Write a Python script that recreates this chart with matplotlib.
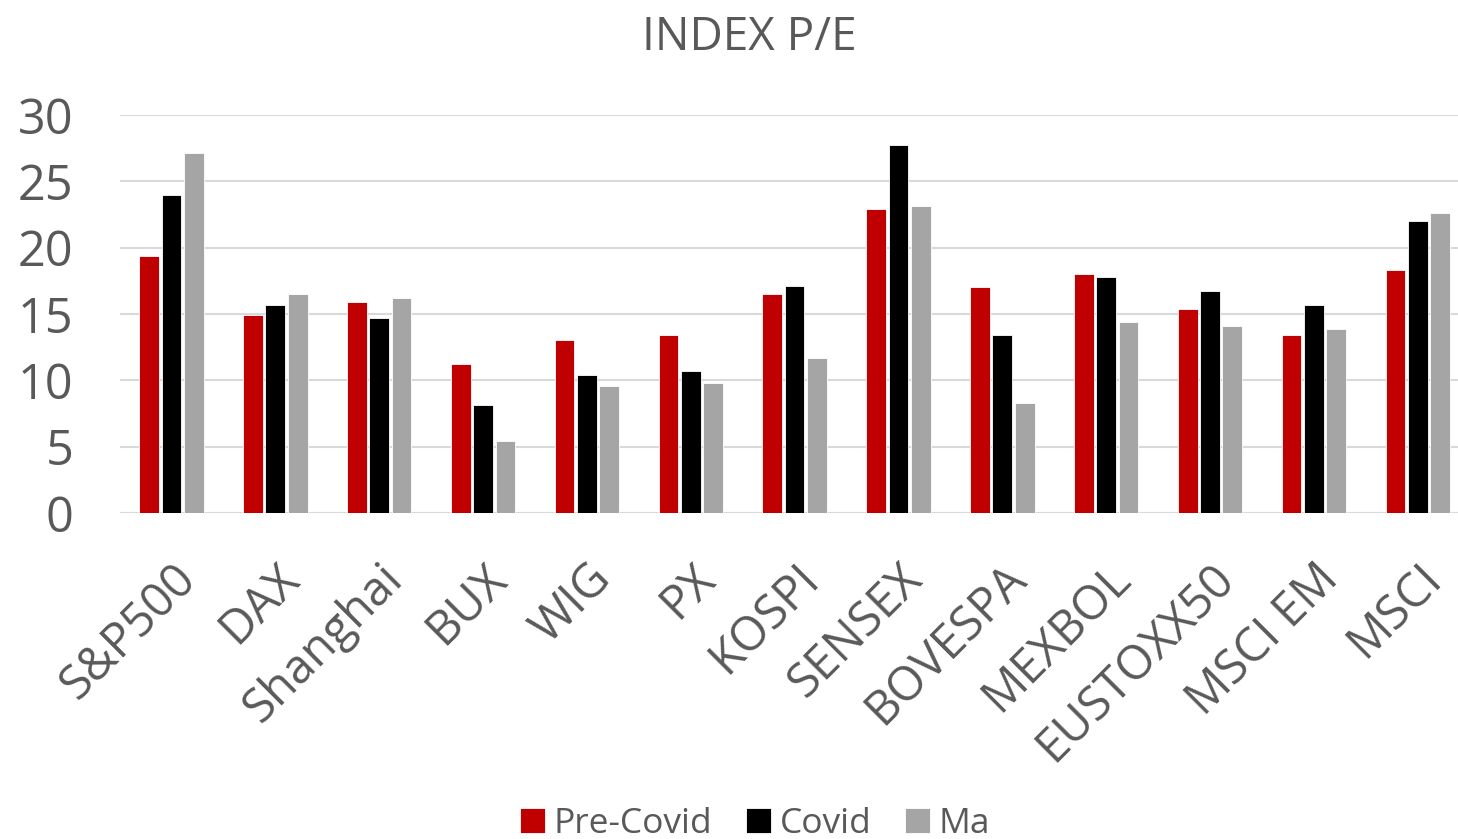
import numpy as np
import matplotlib.pyplot as plt

categories = ['S&P500', 'DAX', 'Shanghai', 'BUX', 'WIG', 'PX', 'KOSPI',
              'SENSEX', 'BOVESPA', 'MEXBOL', 'EUSTOXX50', 'MSCI EM', 'MSCI']
pre_covid = [19.4, 14.9, 15.9, 11.2, 13.0, 13.4, 16.5, 22.9, 17.0, 18.0, 15.4, 13.4, 18.3]
covid = [24.0, 15.7, 14.7, 8.1, 10.4, 10.7, 17.1, 27.7, 13.4, 17.8, 16.7, 15.7, 22.0]
ma = [27.1, 16.5, 16.2, 5.4, 9.6, 9.8, 11.7, 23.1, 8.3, 14.4, 14.1, 13.9, 22.6]

series = [('Pre-Covid', pre_covid, '#c00000'),
          ('Covid', covid, '#000000'),
          ('Ma', ma, '#a5a5a5')]

plt.rcParams['font.family'] = ['Open Sans', 'DejaVu Sans']
text_col = '#595959'

fig = plt.figure(figsize=(14.58, 8.39), dpi=100)
ax = fig.add_axes([0.082, 0.3886, 0.926, 0.4744])

x = np.arange(len(categories))
w = 0.19
step = 0.215
for i, (name, vals, col) in enumerate(series):
    ax.bar(x + (i - 1) * step, vals, w, color=col, label=name,
           edgecolor='white', linewidth=0.6, zorder=3)

ax.set_ylim(0, 30)
ax.set_xlim(-0.5, len(categories) - 0.5)
ax.set_yticks(range(0, 31, 5))
ax.yaxis.grid(True, color='#d9d9d9', linewidth=1.5, zorder=0)
for s in ax.spines.values():
    s.set_visible(False)
ax.tick_params(axis='y', length=0, labelsize=35, colors=text_col, pad=33)
ax.set_xticks(x)
ax.set_xticklabels(categories, rotation=45, ha='right', va='top',
                   rotation_mode='anchor')
ax.tick_params(axis='x', length=0, labelsize=34, colors=text_col, pad=30)
ax.axhline(0, color='#d9d9d9', linewidth=1.5, zorder=2)

fig.text(0.514, 0.955, 'INDEX P/E', ha='center', va='center',
         fontsize=33, color=text_col)

leg = fig.legend(loc='center', bbox_to_anchor=(0.518, 0.018), ncol=3,
                 frameon=False, fontsize=25.5, handlelength=0.7, handleheight=0.7,
                 handletextpad=0.25, columnspacing=0.95)
for t in leg.get_texts():
    t.set_color(text_col)

fig.savefig('out.png', dpi=100)
